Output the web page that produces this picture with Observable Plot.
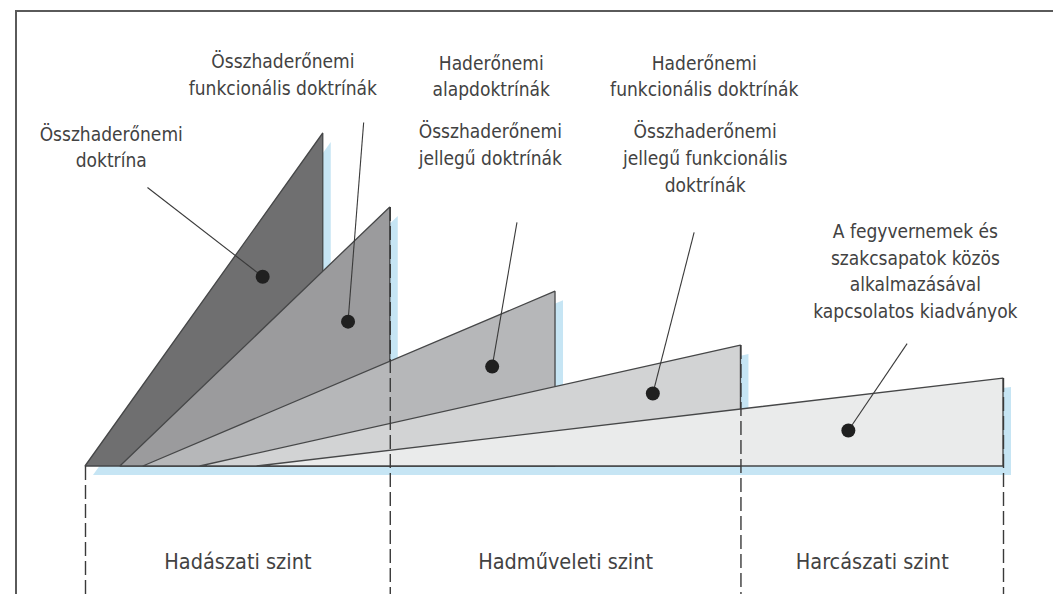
<!DOCTYPE html>
<html>
<head>
<meta charset="utf-8">
<script src="https://cdn.jsdelivr.net/npm/d3@7"></script>
<script src="https://cdn.jsdelivr.net/npm/@observablehq/plot@0.6"></script>
<style>
  html, body { margin: 0; padding: 0; background: #fff; overflow: hidden; }
  #wrap { position: relative; width: 1053px; height: 594px; }
  #frame { position: absolute; left: 15px; top: 10px; width: 1100px; height: 700px;
           border-top: 2px solid #5a5a5a; border-left: 2px solid #5a5a5a; box-sizing: border-box; }
  #chart { position: absolute; left: 0; top: 0; }
</style>
</head>
<body>
<div id="wrap"><div id="frame"></div><div id="chart"></div></div>
<script>
// Wedges: start on the baseline, end at a vertical edge of a given height
const wedgeNames = ["Összhaderőnemi doktrína", "Összhaderőnemi funkcionális doktrínák",
  "Haderőnemi alapdoktrínák", "Haderőnemi funkcionális doktrínák", "Fegyvernemi kiadványok"];
const wedgeStart = [0, 3.8, 6.3, 12.5, 18.7];
const wedgeEnd   = [25.9, 33.2, 51.2, 71.4, 100];
const wedgeTop   = [100, 77.8, 52.5, 36.3, 26.4];
const wedgeFill  = ["#6f6f70", "#9b9b9d", "#b6b7b9", "#d2d3d4", "#eaebeb"];

// Levels (boundaries along the baseline) and their labels
const levelBounds = [0, 33.2, 71.4, 100];
const levelNames  = ["Hadászati szint", "Hadműveleti szint", "Harcászati szint"];

// Callout dots, leader-line ends and label blocks
const dotX = [19.3, 28.6, 44.3, 61.8, 83.1];
const dotY = [57.0, 43.5, 30.0, 21.9, 10.8];
const leadX = [6.75, 30.3, 47.0, 66.3, 89.5];
const leadY = [83.8, 103.3, 73.3, 70.3, 36.9];

const labelText = [
  "Összhaderőnemi\ndoktrína",
  "Összhaderőnemi\nfunkcionális doktrínák",
  "Haderőnemi\nalapdoktrínák",
  "Összhaderőnemi\njellegű doktrínák",
  "Haderőnemi\nfunkcionális doktrínák",
  "Összhaderőnemi\njellegű funkcionális\ndoktrínák",
  "A fegyvernemek és\nszakcsapatok közös\nalkalmazásával\nkapcsolatos kiadványok"
];
const labelX = [2.8, 21.5, 44.2, 44.1, 67.4, 67.5, 90.4];
const labelY = [96.4, 118.2, 117.7, 97.1, 117.7, 93.1, 59.2];

// build tables
const wedgePts = wedgeStart.flatMap((s, i) => [
  {w: i, x: s, top: 0},
  {w: i, x: wedgeEnd[i], top: wedgeTop[i]}
]);
const bounds = levelBounds.map(b => {
  const k = wedgeEnd.indexOf(b);
  return {x: b, y1: k >= 0 ? wedgeTop[k] : 0, y2: -60};
});
const levels = levelNames.map((n, i) => ({name: n, x: (levelBounds[i] + levelBounds[i + 1]) / 2, y: -28.8}));
const leaders = dotX.map((x, i) => ({x1: leadX[i], y1: leadY[i], x2: x, y2: dotY[i]}));
const dots = dotX.map((x, i) => ({x, y: dotY[i]}));
const labels = labelText.map((t, i) => ({t, x: labelX[i], y: labelY[i]}));

const FONT = "'Liberation Sans Narrow', 'DejaVu Sans Condensed', 'Roboto Condensed', 'Liberation Sans', sans-serif";

const marks = [];
// shadows
wedgeStart.forEach((_, i) => {
  marks.push(Plot.areaY(wedgePts.filter(d => d.w === i), {
    x: "x", y1: 0, y2: "top", fill: "#c6e5f4", dx: 8, dy: 9
  }));
});
// wedges
wedgeStart.forEach((_, i) => {
  marks.push(Plot.areaY(wedgePts.filter(d => d.w === i), {
    x: "x", y1: 0, y2: "top", fill: wedgeFill[i], stroke: "#464748", strokeWidth: 1.3, strokeLinejoin: "miter"
  }));
});
marks.push(
  Plot.ruleX(bounds, {x: "x", y1: "y1", y2: "y2", stroke: "#3a3a3a", strokeWidth: 1.4, strokeDasharray: "14,5"}),
  Plot.link(leaders, {x1: "x1", y1: "y1", x2: "x2", y2: "y2", stroke: "#3a3a3a", strokeWidth: 1.1}),
  Plot.dot(dots, {x: "x", y: "y", r: 7, fill: "#202020"}),
  Plot.text(labels, {x: "x", y: "y", text: "t", fontSize: 19, lineHeight: 1.4, fill: "#424242", fontFamily: FONT}),
  Plot.text(levels, {x: "x", y: "y", text: "name", fontSize: 21.5, fill: "#424242", fontFamily: FONT})
);

const chart = Plot.plot({
  width: 1053,
  height: 594,
  margin: 0,
  x: {domain: [0, 100], range: [85, 1003], axis: null},
  y: {domain: [0, 100], range: [466, 133], axis: null},
  style: {background: "transparent", overflow: "visible"},
  marks
});
document.getElementById("chart").appendChild(chart);
</script>
</body>
</html>
